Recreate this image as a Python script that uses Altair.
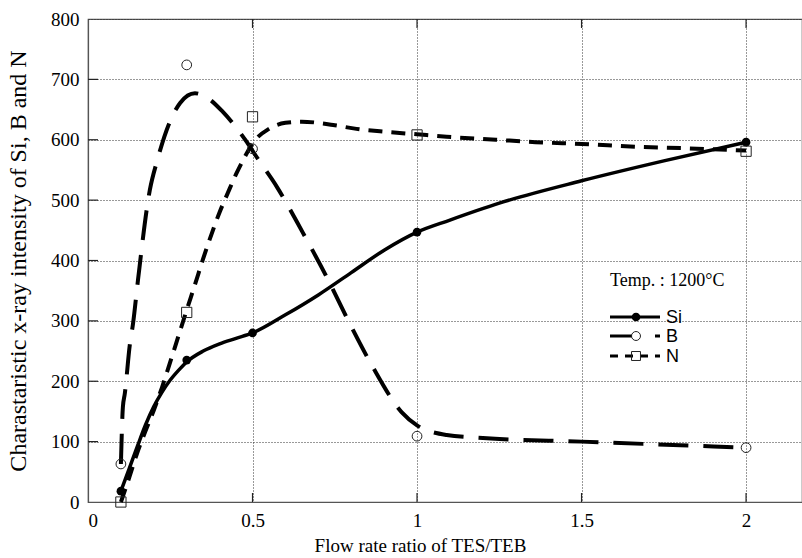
import altair as alt
import pandas as pd

# Measured intensities at each TES/TEB flow rate ratio
ratio = [0.1, 0.3, 0.5, 1.0, 2.0]
si_pts = [18, 235, 280, 447, 596]
b_pts = [63, 724, 585, 109, 90]
n_pts = [0, 314, 638, 608, 581]

# Hand-fitted trend curves for each element
si_curve_x = [0.1, 0.125, 0.15, 0.175, 0.2, 0.225, 0.25, 0.275, 0.3, 0.35, 0.4,
              0.45, 0.5, 0.6, 0.7, 0.8, 0.9, 1.0, 1.1, 1.25, 1.5, 1.75, 2.0]
si_curve_y = [18, 55, 92, 128, 158, 182, 202, 218, 232, 250, 262,
              271, 280, 310, 343, 380, 417, 447, 467, 495, 532, 565, 596]

b_curve_x = [0.1, 0.106, 0.112, 0.127, 0.137, 0.152, 0.188, 0.21, 0.252, 0.28,
             0.325, 0.364, 0.41, 0.483, 0.513, 0.574, 0.652, 0.725, 0.795, 0.865,
             0.953, 1.0, 1.09, 1.2, 1.5, 1.8, 2.0]
b_curve_y = [63, 157, 180, 260, 296, 368, 517, 565, 634, 661,
             677, 669, 646, 596, 571, 522, 447, 373, 296, 224,
             149, 127, 111, 106, 100, 94, 90]

n_curve_x = [0.1, 0.125, 0.15, 0.175, 0.2, 0.225, 0.25, 0.275, 0.3, 0.325,
             0.35, 0.375, 0.4, 0.425, 0.45, 0.475, 0.5, 0.55, 0.6, 0.65,
             0.7, 0.75, 0.816, 0.91, 1.0, 1.09, 1.24, 1.36, 1.5, 1.68, 1.81, 2.0]
n_curve_y = [0, 40, 82, 118, 152, 190, 232, 275, 318, 360,
             403, 443, 480, 512, 543, 570, 594, 618, 628, 630,
             628, 624, 618, 613, 609, 605, 600, 596, 593, 588, 586, 582]

x_ticks = [0, 0.5, 1, 1.5, 2]
y_ticks = [0, 100, 200, 300, 400, 500, 600, 700, 800]

W, H = 714, 483
SERIF = "Liberation Serif"
SANS = "Liberation Sans"

x_enc = alt.X(
    "x:Q",
    scale=alt.Scale(domain=[0, 2.17], nice=False, zero=False),
    axis=alt.Axis(
        values=x_ticks, format="~g", title="Flow rate ratio of TES/TEB",
        ticks=False, labelPadding=9, titlePadding=6, titleX=332,
        titleFontSize=19,
    ),
)
y_enc = alt.Y(
    "y:Q",
    scale=alt.Scale(domain=[0, 800], nice=False),
    axis=alt.Axis(
        values=y_ticks, title="Charastaristic x-ray intensity of Si, B and N",
        ticks=False, labelPadding=9, titlePadding=20, titleFontSize=24,
    ),
)

def frame(xs, ys):
    return pd.DataFrame({"x": xs, "y": ys})

si_line = alt.Chart(frame(si_curve_x, si_curve_y)).mark_line(
    color="black", strokeWidth=3.5, interpolate="monotone"
).encode(x=x_enc, y=y_enc)
b_line = alt.Chart(frame(b_curve_x, b_curve_y)).mark_line(
    color="black", strokeWidth=4, strokeDash=[30, 15], interpolate="monotone"
).encode(x=x_enc, y=y_enc)
n_line = alt.Chart(frame(n_curve_x, n_curve_y)).mark_line(
    color="black", strokeWidth=4, strokeDash=[14, 9], interpolate="monotone"
).encode(x=x_enc, y=y_enc)

si_mark = alt.Chart(frame(ratio, si_pts)).mark_point(
    shape="circle", filled=True, size=75, color="black", opacity=1
).encode(x=x_enc, y=y_enc)
b_mark = alt.Chart(frame(ratio, b_pts)).mark_point(
    shape="circle", filled=False, size=95, color="#222", strokeWidth=1, opacity=1
).encode(x=x_enc, y=y_enc)
n_mark = alt.Chart(frame(ratio, n_pts)).mark_point(
    shape="square", filled=False, size=105, color="#222", strokeWidth=1, opacity=1
).encode(x=x_enc, y=y_enc)

# Inward tick marks on the frame
tick_x = pd.DataFrame({"x": x_ticks[1:]})
tick_y = pd.DataFrame({"y": y_ticks[1:-1]})
xt_bottom = alt.Chart(tick_x).mark_rule(color="#222", strokeWidth=1.2).encode(
    x="x:Q", y=alt.value(H), y2=alt.value(H - 9))
xt_top = alt.Chart(tick_x).mark_rule(color="#222", strokeWidth=1.2).encode(
    x="x:Q", y=alt.value(0), y2=alt.value(9))
yt_left = alt.Chart(tick_y).mark_rule(color="#222", strokeWidth=1.2).encode(
    y="y:Q", x=alt.value(0), x2=alt.value(10))

# Key inside the plot
one = pd.DataFrame({"k": [0]})
LX0, LX1, LMX, LTX = 522, 572, 548, 578
rows = {"Si": 298, "B": 317, "N": 337}

temp_txt = alt.Chart(one).mark_text(
    text="Temp. : 1200°C", font=SERIF, fontSize=18, align="left", baseline="alphabetic"
).encode(x=alt.value(LX0), y=alt.value(267))

key_layers = [temp_txt]
key_styles = {
    "Si": dict(strokeWidth=3, strokeDash=[1, 0]),
    "B": dict(strokeWidth=3, strokeDash=[22, 23]),
    "N": dict(strokeWidth=3, strokeDash=[8, 7]),
}
for name, ry in rows.items():
    key_layers.append(
        alt.Chart(one).mark_rule(color="black", **key_styles[name]).encode(
            x=alt.value(LX0), x2=alt.value(LX1), y=alt.value(ry))
    )
    if name == "Si":
        mk = alt.Chart(one).mark_point(shape="circle", filled=True, size=75,
                                       color="black", opacity=1)
    elif name == "B":
        mk = alt.Chart(one).mark_point(shape="circle", filled=False, size=80,
                                       color="#222", strokeWidth=1, opacity=1)
    else:
        mk = alt.Chart(one).mark_point(shape="square", filled=False, size=80,
                                       color="#222", strokeWidth=1, opacity=1)
    key_layers.append(mk.encode(x=alt.value(LMX), y=alt.value(ry)))
    key_layers.append(
        alt.Chart(one).mark_text(text=name, font=SANS, fontSize=18, align="left",
                                 baseline="middle", color="black").encode(
            x=alt.value(LTX), y=alt.value(ry + 1))
    )

chart = alt.layer(
    si_line, b_line, n_line, si_mark, b_mark, n_mark,
    xt_bottom, xt_top, yt_left, *key_layers,
).properties(
    width=W, height=H,
    autosize=alt.AutoSizeParams(type="none"),
    padding={"left": 88, "top": 19, "right": 0, "bottom": 56},
    background="white",
).configure_view(
    stroke="#555", strokeWidth=1.2
).configure_axis(
    labelFont=SERIF, titleFont=SERIF, labelFontSize=19, titleFontSize=19,
    labelColor="black", titleColor="black", titleFontWeight="normal",
    grid=True, gridColor="#333", gridDash=[1, 2], gridOpacity=1, gridWidth=1,
    domainColor="#555", domainWidth=1.2,
)

chart.save("out.html", embed_options={"renderer": "svg", "actions": False})
